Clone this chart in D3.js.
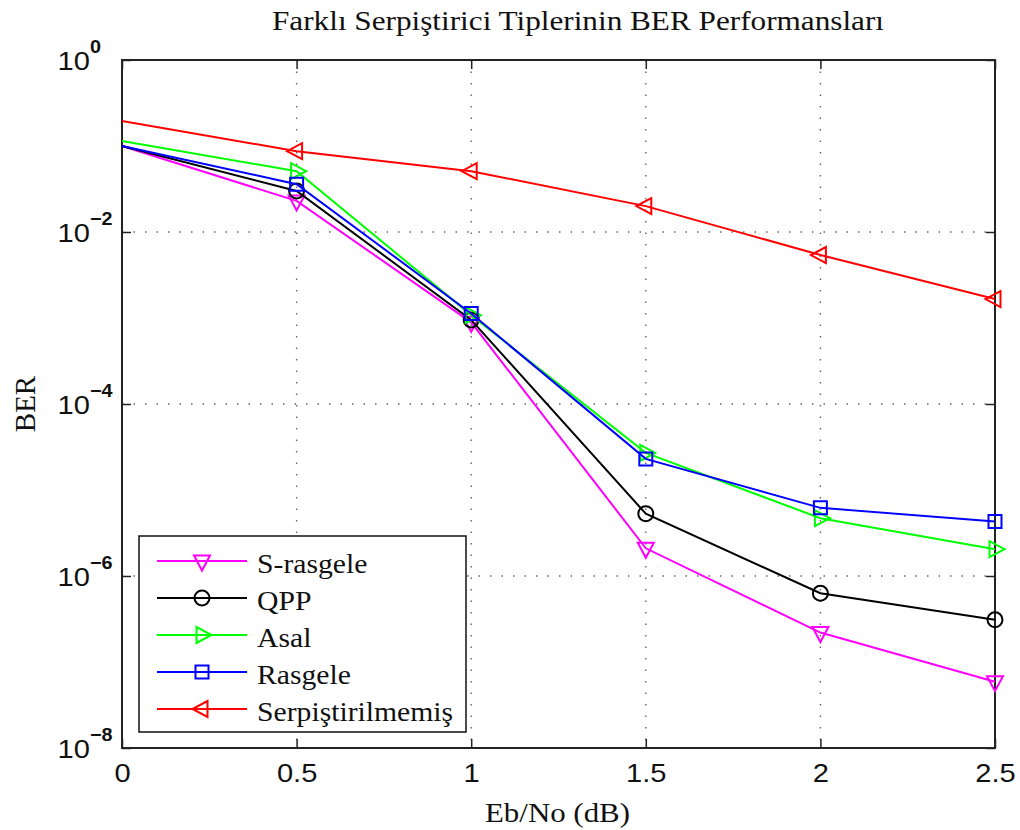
<!DOCTYPE html>
<html lang="tr">
<head>
<meta charset="utf-8">
<title>Farklı Serpiştirici Tiplerinin BER Performansları</title>
<script src="https://d3js.org/d3.v7.min.js"></script>
<style>
  body { margin: 0; background: #fff; }
  .serif { font-family: "Liberation Serif", "Times New Roman", serif; fill: #111; }
  .sans { font-family: "Liberation Sans", Arial, sans-serif; fill: #111; }
</style>
</head>
<body>
<svg width="1020" height="830"></svg>
<script>
// data
const ebno = [0, 0.5, 1, 1.5, 2, 2.5];
const sRasgele = [0.10, 0.023, 8.9e-4, 2.1e-6, 2.2e-7, 5.9e-8];
const qpp = [0.10, 0.030, 9.5e-4, 5.3e-6, 6.3e-7, 3.1e-7];
const asal = [0.114, 0.051, 1.08e-3, 2.7e-5, 4.7e-6, 2.05e-6];
const rasgele = [0.10, 0.036, 1.13e-3, 2.3e-5, 6.2e-6, 4.3e-6];
const serpistirilmemis = [0.195, 0.087, 0.051, 0.020, 0.0054, 0.00166];

const seriesNames = ["S-rasgele", "QPP", "Asal", "Rasgele", "Serpiştirilmemiş"];
const seriesValues = [sRasgele, qpp, asal, rasgele, serpistirilmemis];
const seriesColors = ["#ff00ff", "#000000", "#00ff00", "#0000ff", "#ff0000"];
const seriesMarkers = ["triDown", "circle", "triRight", "square", "triLeft"];

const xTicks = [0, 0.5, 1, 1.5, 2, 2.5];
const xTickLabels = ["0", "0.5", "1", "1.5", "2", "2.5"];
const yTickExps = [0, -2, -4, -6, -8];

const titleText = "Farklı Serpiştirici Tiplerinin BER Performansları";
const xLabel = "Eb/No (dB)";
const yLabel = "BER";

const svg = d3.select("svg");
const pLeft = 122, pRight = 995, pTop = 60, pBottom = 748;

const x = d3.scaleLinear().domain([0, 2.5]).range([pLeft, pRight]);
const y = d3.scaleLog().domain([1e-8, 1]).range([pBottom, pTop]);

// grid
const grid = svg.append("g").attr("stroke", "#666").attr("stroke-width", 1.4)
    .attr("stroke-dasharray", "1.5,10");
grid.selectAll(".gx").data(xTicks.slice(1, -1)).join("line")
    .attr("x1", d => x(d)).attr("x2", d => x(d))
    .attr("y1", pTop).attr("y2", pBottom);
grid.selectAll(".gy").data(yTickExps.slice(1, -1)).join("line")
    .attr("x1", pLeft).attr("x2", pRight)
    .attr("y1", d => y(Math.pow(10, d))).attr("y2", d => y(Math.pow(10, d)));

// axes (ticks inward on all sides)
const tickLen = 9;
const xAxis = svg.append("g").attr("transform", `translate(0,${pBottom})`)
    .call(d3.axisBottom(x).tickValues(xTicks).tickSize(-tickLen).tickPadding(16)
        .tickFormat((d, i) => xTickLabels[i]));
xAxis.selectAll("text").attr("class", "sans").attr("font-size", 26)
    .attr("transform", "scale(1.12,1)").attr("fill", "#111");
svg.append("g").attr("transform", `translate(0,${pTop})`)
    .call(d3.axisTop(x).tickValues(xTicks).tickSize(-tickLen).tickFormat(""));
const yVals = yTickExps.map(e => Math.pow(10, e));
svg.append("g").attr("transform", `translate(${pLeft},0)`)
    .call(d3.axisLeft(y).tickValues(yVals).tickSize(-tickLen).tickFormat(""));
svg.append("g").attr("transform", `translate(${pRight},0)`)
    .call(d3.axisRight(y).tickValues(yVals).tickSize(-tickLen).tickFormat(""));
svg.selectAll(".domain").remove();
svg.selectAll(".tick line").attr("stroke", "#222").attr("stroke-width", 1.5);

svg.append("rect").attr("x", pLeft).attr("y", pTop)
    .attr("width", pRight - pLeft).attr("height", pBottom - pTop)
    .attr("fill", "none").attr("stroke", "#222").attr("stroke-width", 2);

// y tick labels 10^n
const yl = svg.append("g");
yTickExps.forEach(e => {
    const yy = y(Math.pow(10, e));
    yl.append("text").attr("class", "sans").attr("font-size", 26)
        .attr("text-anchor", "end")
        .attr("transform", `translate(90,${yy + 10}) scale(1.12,1)`)
        .text("10");
    yl.append("text").attr("class", "sans").attr("font-size", 18)
        .attr("font-weight", "bold")
        .attr("transform", `translate(90,${yy - 7}) scale(1.1,1)`)
        .text(e === 0 ? "0" : "\u2212" + Math.abs(e));
});

// markers
function markerPath(type) {
    switch (type) {
        case "triDown": return "M-8,-5.5L8,-5.5L0,9.5Z";
        case "triRight": return "M-5.5,-8L-5.5,8L9.5,0Z";
        case "triLeft": return "M5.5,-8L5.5,8L-9.5,0Z";
        case "square": return "M-6.5,-6.5h13v13h-13Z";
        default: return null;
    }
}
function drawMarker(g, type, color) {
    if (type === "circle") {
        g.append("circle").attr("r", 7.5).attr("fill", "none")
            .attr("stroke", color).attr("stroke-width", 2);
    } else {
        g.append("path").attr("d", markerPath(type)).attr("fill", "none")
            .attr("stroke", color).attr("stroke-width", 2);
    }
}

const line = d3.line().x(d => x(d[0])).y(d => y(d[1]));

seriesValues.forEach((vals, i) => {
    const pts = ebno.map((e, j) => [e, vals[j]]);
    svg.append("path").datum(pts).attr("d", line)
        .attr("fill", "none").attr("stroke", seriesColors[i]).attr("stroke-width", 2);
    pts.filter(p => p[0] > 0).forEach(p => {
        const g = svg.append("g").attr("transform", `translate(${x(p[0])},${y(p[1])})`);
        drawMarker(g, seriesMarkers[i], seriesColors[i]);
    });
});

// legend
const legend = svg.append("g");
legend.append("rect").attr("x", 139).attr("y", 536).attr("width", 327).attr("height", 196)
    .attr("fill", "#fff").attr("stroke", "#111").attr("stroke-width", 1.5);
seriesNames.forEach((name, i) => {
    const ly = 561 + i * 37;
    legend.append("line").attr("x1", 157).attr("x2", 247).attr("y1", ly).attr("y2", ly)
        .attr("stroke", seriesColors[i]).attr("stroke-width", 2);
    drawMarker(legend.append("g").attr("transform", `translate(202,${ly})`),
        seriesMarkers[i], seriesColors[i]);
    legend.append("text").attr("class", "serif").attr("font-size", 28)
        .attr("transform", `translate(257,${ly + 12}) scale(1.06,1)`)
        .text(name);
});

// title and axis labels
svg.append("text").attr("class", "serif").attr("font-size", 27)
    .attr("x", 272).attr("y", 30)
    .attr("textLength", 612).attr("lengthAdjust", "spacingAndGlyphs")
    .text(titleText);
svg.append("text").attr("class", "serif").attr("font-size", 28)
    .attr("x", 485).attr("y", 822)
    .attr("textLength", 145).attr("lengthAdjust", "spacingAndGlyphs")
    .text(xLabel);
svg.append("text").attr("class", "serif").attr("font-size", 29)
    .attr("text-anchor", "middle")
    .attr("transform", `translate(35,404) rotate(-90)`)
    .text(yLabel);
</script>
</body>
</html>
